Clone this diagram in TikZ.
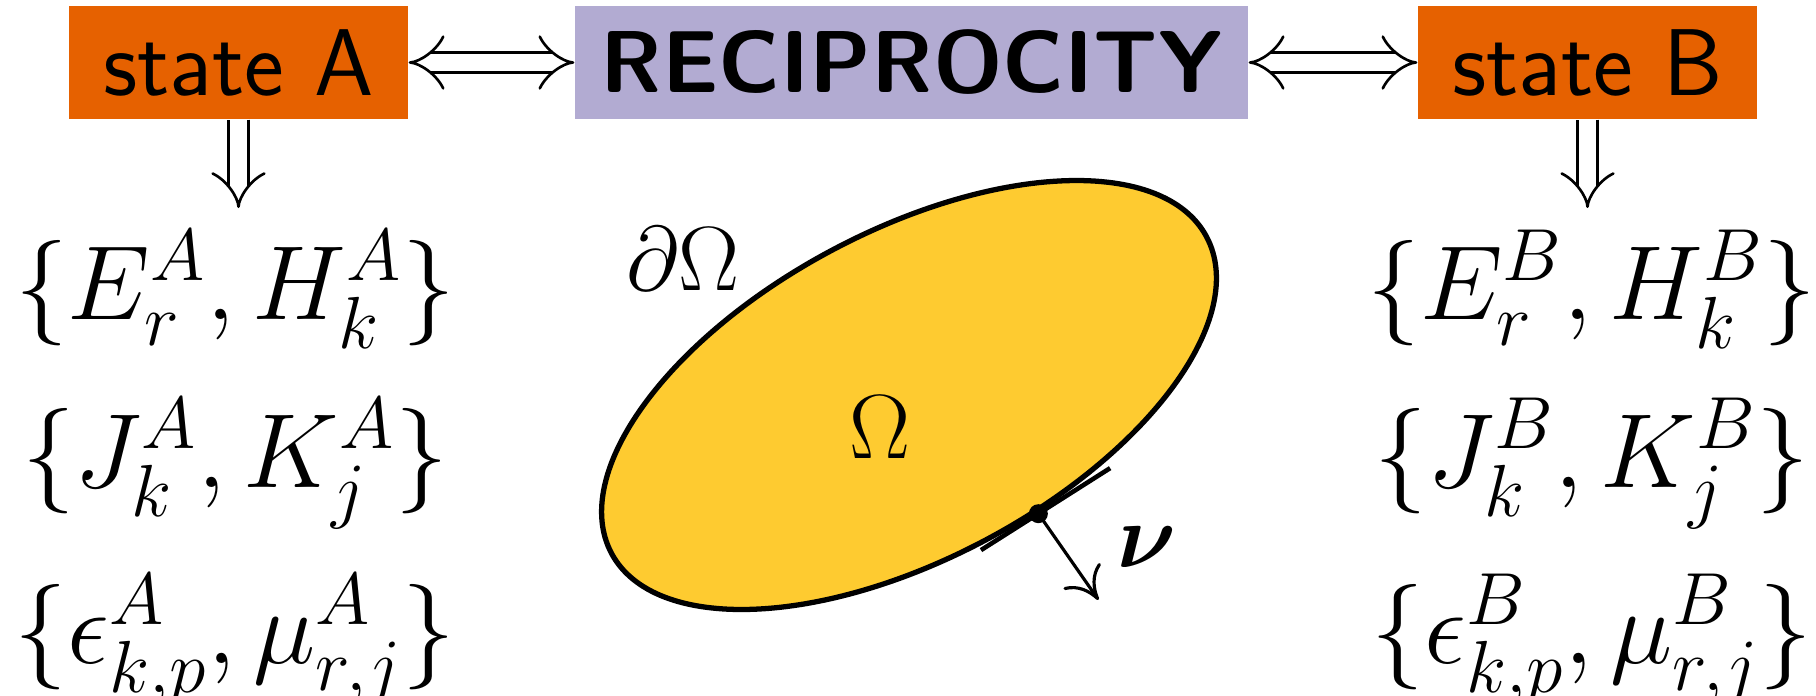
\RequirePackage{fix-cm}
\documentclass[tikz,border=0pt]{standalone}
\usepackage{amsmath,amssymb,bm}
\usepackage{fontspec}
\usepackage{tikz}
\usetikzlibrary{positioning,arrows.meta,calc}
\definecolor{stateorange}{RGB}{230,97,0}
\definecolor{recipurple}{RGB}{178,171,210}
\definecolor{domainyellow}{RGB}{254,203,48}

\tikzset{
  statebox/.style={rectangle,fill=stateorange,inner sep=0pt,
    minimum width=3.39cm,minimum height=1.13cm,
    font=\sffamily\fontsize{27}{32}\selectfont},
  recibox/.style={rectangle,fill=recipurple,inner sep=0pt,
    minimum width=6.73cm,minimum height=1.13cm,
    font=\sffamily\bfseries\fontsize{25}{30}\selectfont},
  dblarrow/.style={double,line width=0.75pt,double distance=4.8pt},
  fieldset/.style={anchor=base,font=\fontsize{30}{36}\selectfont},
  domlabel/.style={font=\fontsize{26}{31}\selectfont},
}

\begin{document}
\begin{tikzpicture}
\useasboundingbox (0,0) rectangle (18.16,-6.95);

% boxes on top
\node[statebox] (stA) at (2.385,-0.625) {state A};
\node[recibox] (reci) at (9.115,-0.625) {RECIPROCITY};
\node[statebox] (stB) at (15.875,-0.625) {state B};

\draw[dblarrow,{Implies[scale=1.3]}-{Implies[scale=1.3]}] (stA.east) -- (reci.west);
\draw[dblarrow,{Implies[scale=1.3]}-{Implies[scale=1.3]}] (reci.east) -- (stB.west);

% the two states
\coordinate (endA) at (2.385,-2.08);
\coordinate (endB) at (15.875,-2.08);
\draw[dblarrow,-{Implies[scale=1.3]}] (stA.south) -- (endA);
\draw[dblarrow,-{Implies[scale=1.3]}] (stB.south) -- (endB);

\node[fieldset] (emA) at (2.35,-3.19) {$\{E^A_r, H^A_k\}$};
\node[fieldset] (srcA) at (2.35,-4.87) {$\{J^A_k, K^A_j\}$};
\node[fieldset] (matA) at (2.35,-6.63) {$\{\epsilon^A_{k,p}, \mu^A_{r,j}\}$};

\node[fieldset] (emB) at (15.92,-3.19) {$\{E^B_r, H^B_k\}$};
\node[fieldset] (srcB) at (15.92,-4.87) {$\{J^B_k, K^B_j\}$};
\node[fieldset] (matB) at (15.92,-6.63) {$\{\epsilon^B_{k,p}, \mu^B_{r,j}\}$};

% the domain
\coordinate (dom) at (9.09,-3.95);
\draw[fill=domainyellow,line width=1.5pt] (dom) ellipse [x radius=3.37,y radius=1.64,rotate=28];
\begin{scope}[shift={(dom)},rotate=28]
  \coordinate (pt) at ({3.37*cos(-80)},{1.64*sin(-80)-0.04});
  \coordinate (tgA) at ($(pt)+(-0.68*0.997,-0.68*0.0769)$);
  \coordinate (tgB) at ($(pt)+(0.85*0.997,0.85*0.0769)$);
  \coordinate (nrm) at ($(pt)+(1.05*0.12,-1.05*0.993)$);
\end{scope}
\draw[line width=1.3pt] (tgA) -- (tgB);
\draw[line width=0.9pt,-{Computer Modern Rightarrow[length=3mm,width=4.5mm]}] (pt) -- (nrm);
\fill (pt) circle (0.095);

\node[domlabel] (bdry) at (6.83,-2.59) {$\partial\Omega$};
\node[domlabel] (omega) at (8.80,-4.27) {$\Omega$};
\node[domlabel] (nu) at (11.47,-5.47) {$\boldsymbol{\nu}$};
\end{tikzpicture}
\end{document}
